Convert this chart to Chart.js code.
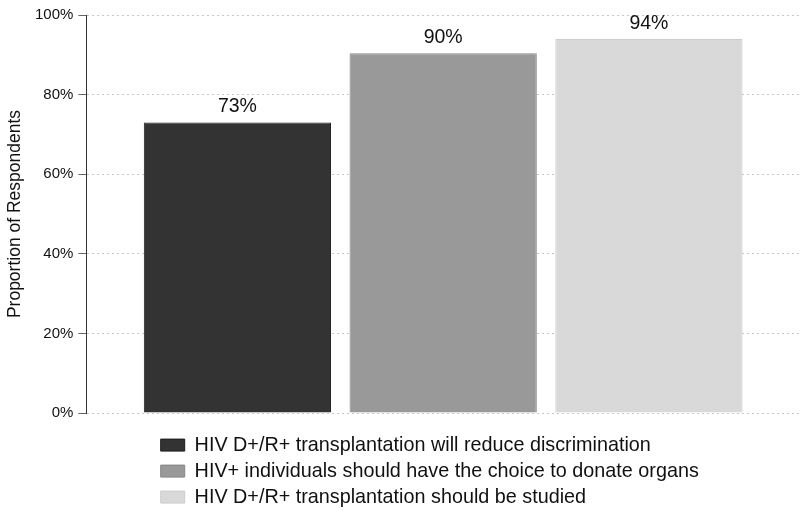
<!DOCTYPE html>
<html>
<head>
<meta charset="utf-8">
<script src="https://cdn.jsdelivr.net/npm/chart.js@4/dist/chart.umd.min.js"></script>
<style>
html,body{margin:0;padding:0;background:#fff;}
#wrap{width:800px;height:511px;position:relative;}
</style>
</head>
<body>
<div id="wrap"><canvas id="c" width="800" height="511"></canvas></div>
<script>
const categories = [""];
const seriesLabels = [
  "HIV D+/R+ transplantation will reduce discrimination",
  "HIV+ individuals should have the choice to donate organs",
  "HIV D+/R+ transplantation should be studied"
];
const seriesValues = [73, 90.4, 94];
const valueLabels = ["73%", "90%", "94%"];
const yTicks = [0, 20, 40, 60, 80, 100];

const fills = ["#333333", "#999999", "#d9d9d9"];
const borders = ["#1c1c1c", "#858585", "#cccccc"];

const FONT = "'Liberation Sans', Arial, Helvetica, sans-serif";

const valueLabelPlugin = {
  id: 'valueLabels',
  afterDatasetsDraw(chart) {
    const ctx = chart.ctx;
    ctx.save();
    ctx.font = "19.5px " + FONT;
    ctx.fillStyle = "#111";
    ctx.textAlign = "center";
    ctx.textBaseline = "alphabetic";
    chart.data.datasets.forEach((ds, i) => {
      const meta = chart.getDatasetMeta(i);
      meta.data.forEach(el => {
        ctx.fillText(valueLabels[i], el.x, el.y - 10);
      });
    });
    ctx.restore();
  }
};

const legendShift = {
  id: 'legendShift',
  afterLayout(chart) {
    const lg = chart.legend;
    if (lg) {
      lg.left = 154.5;
      lg.top += 16;
      lg.bottom += 16;
    }
  }
};

new Chart(document.getElementById('c'), {
  type: 'bar',
  data: {
    labels: categories,
    datasets: seriesLabels.map((lab, i) => ({
      label: lab,
      data: [seriesValues[i]],
      backgroundColor: fills[i],
      borderColor: borders[i],
      borderWidth: 1
    }))
  },
  options: {
    responsive: false,
    animation: false,
    devicePixelRatio: 1,
    categoryPercentage: 0.865,
    barPercentage: 0.91,
    layout: { padding: { top: 15, right: 0, left: 5, bottom: 10 } },
    plugins: {
      tooltip: { enabled: false },
      legend: {
        position: 'bottom',
        align: 'start',
        labels: {
          font: { size: 19.8, family: FONT },
          color: "#111",
          boxWidth: 24,
          boxHeight: 12,
          padding: 6.2
        }
      }
    },
    scales: {
      x: { display: false },
      y: {
        min: 0,
        max: 100,
        afterBuildTicks(scale) { scale.ticks = yTicks.map(v => ({ value: v })); },
        ticks: {
          font: { size: 15, family: FONT },
          color: "#111",
          padding: 5,
          callback: v => v + "%"
        },
        grid: {
          color: "#c8c8c8",
          lineWidth: 1,
          tickLength: 8,
          tickColor: "#666",
          drawTicks: true
        },
        border: { display: true, color: "#333", width: 1, dash: [2, 3] },
        title: {
          display: true,
          text: "Proportion of Respondents",
          font: { size: 17.5, family: FONT },
          color: "#111",
          padding: { top: 0, bottom: 4 }
        }
      }
    }
  },
  plugins: [valueLabelPlugin, legendShift]
});
</script>
</body>
</html>
